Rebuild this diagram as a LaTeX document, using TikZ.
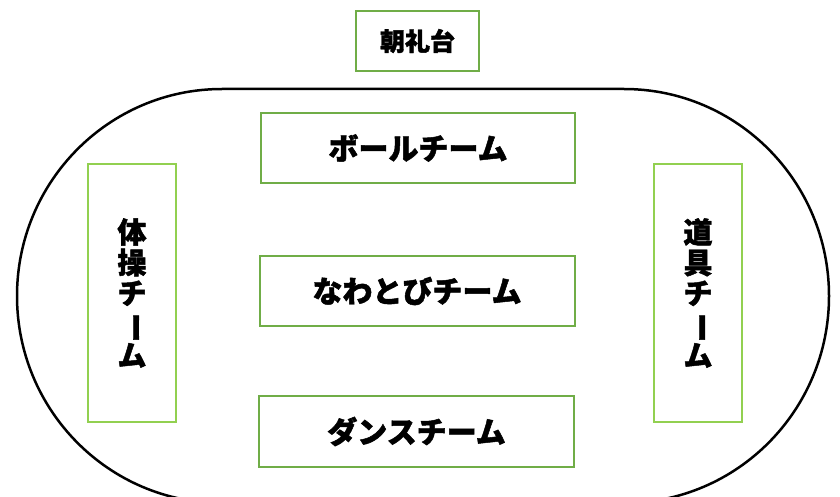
\documentclass[tikz,border=0pt]{standalone}
\usepackage{fontspec}
\newfontfamily\cjk{Noto Sans CJK JP}[BoldFeatures={FakeBold=1.6}]
\definecolor{gdark}{RGB}{112,173,71}
\definecolor{glight}{RGB}{146,208,80}
\newcommand{\vbar}{\rotatebox[origin=c]{-90}{ー}}
\begin{document}
\begin{tikzpicture}[x=1pt,y=-1pt,
  teambox/.style={draw=gdark,line width=2pt,fill=white,inner sep=0pt,font=\cjk\bfseries\fontsize{30}{32}\selectfont},
  sidebox/.style={draw=glight,line width=2pt,fill=white,inner sep=0pt,font=\cjk\bfseries\fontsize{29}{30.5}\selectfont,align=center}]
\useasboundingbox (0,0) rectangle (840,497);
\fill[white] (0,0) rectangle (840,497);
\draw[line width=2.5pt] (222,89) -- (624,89) arc[start angle=-90,end angle=90,x radius=205,y radius=207] -- (222,503) arc[start angle=90,end angle=270,x radius=205,y radius=207] -- cycle;
\node[teambox,minimum width=123pt,minimum height=60pt] (asa) at (417.5,41) {\fontsize{25}{27}\selectfont 朝礼台};
\node[teambox,minimum width=314pt,minimum height=70pt] (ball) at (418,148) {ボールチーム};
\node[teambox,minimum width=315pt,minimum height=70pt] (nawa) at (417,291) {なわとびチーム};
\node[teambox,minimum width=315pt,minimum height=71pt] (dance) at (416.5,431.5) {ダンスチーム};
\node[sidebox,minimum width=88pt,minimum height=258pt] (taiso) at (132,293) {体\\操\\チ\\\vbar\\ム};
\node[sidebox,minimum width=88pt,minimum height=258pt] (dogu) at (698,293) {道\\具\\チ\\\vbar\\ム};
\end{tikzpicture}
\end{document}
